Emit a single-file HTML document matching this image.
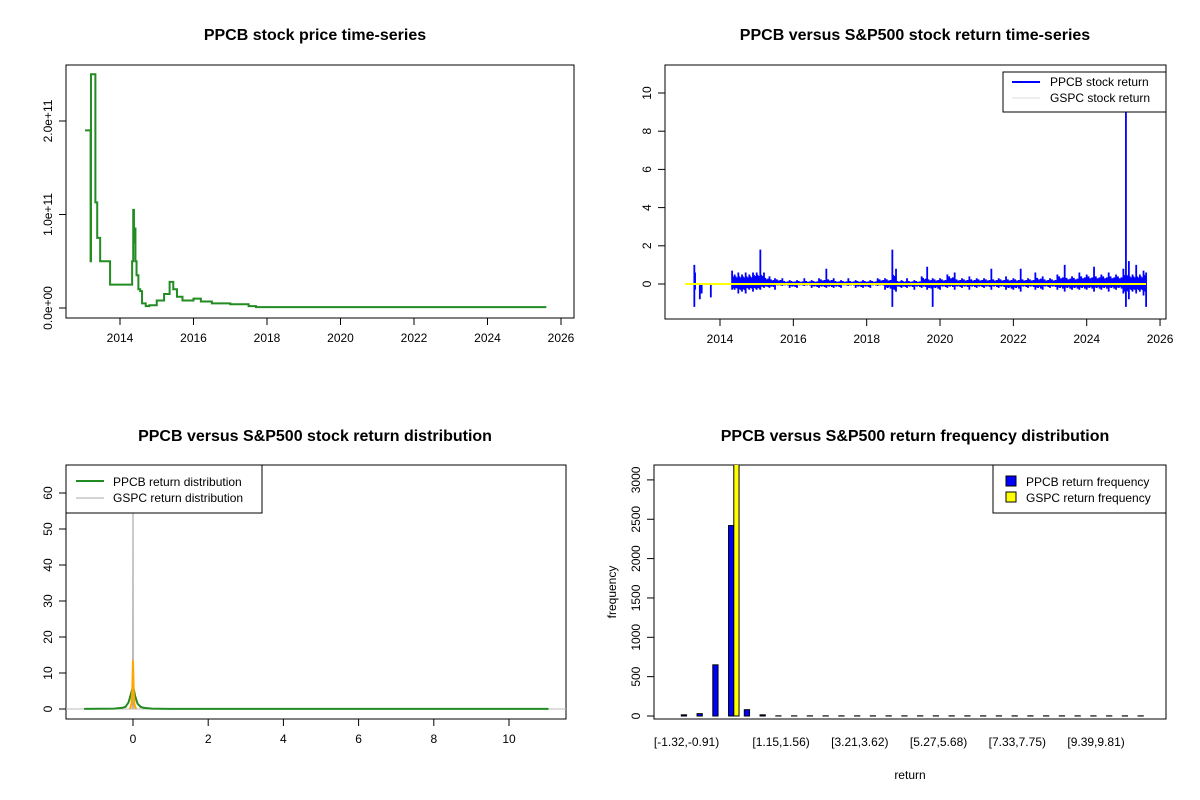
<!DOCTYPE html>
<html><head><meta charset="utf-8">
<style>
body{margin:0;background:#fff;}
svg{display:block;font-family:"Liberation Sans",Arial,sans-serif;}
.t{font-weight:bold;font-size:16px;text-anchor:middle;}
.l{font-size:12px;}
</style></head>
<body>
<svg id="s" width="1200" height="800" viewBox="0 0 1200 800">
<rect width="1200" height="800" fill="#fff"/>
<text class="t" x="315" y="40">PPCB stock price time-series</text>
<text class="t" x="915" y="40">PPCB versus S&amp;P500 stock return time-series</text>
<text class="t" x="315" y="441">PPCB versus S&amp;P500 stock return distribution</text>
<text class="t" x="915" y="441">PPCB versus S&amp;P500 return frequency distribution</text>
<g id="g1"></g>
<g id="g2"></g>
<g id="g3"></g>
<g id="g4"></g>
</svg>
<script>
// ---- data ----
const priceYears=[2013.05,2013.2,2013.21,2013.33,2013.38,2013.46,2013.73,2014.33,2014.36,2014.38,2014.40,2014.42,2014.45,2014.5,2014.55,2014.6,2014.7,2014.8,2015.0,2015.2,2015.35,2015.45,2015.55,2015.7,2016.0,2016.2,2016.5,2017.0,2017.5,2017.7,2025.6];
const priceVals=[1.9,0.5,2.5,1.13,0.75,0.5,0.25,0.5,1.05,0.7,0.85,0.5,0.35,0.2,0.18,0.05,0.02,0.03,0.08,0.15,0.28,0.2,0.12,0.08,0.1,0.07,0.05,0.04,0.02,0.01,0.01];
const priceTicks=[2014,2016,2018,2020,2022,2024,2026];
const priceYTicks=[0,1,2];
const priceYLabels=["0.0e+00","1.0e+11","2.0e+11"];
const retYears=[2013.3,2013.32,2013.45,2013.5,2013.75,2014.33,2014.4,2014.5,2014.6,2014.7,2014.8,2014.9,2015.0,2015.1,2015.2,2015.35,2015.5,2015.7,2015.9,2016.1,2016.3,2016.5,2016.7,2016.9,2017.1,2017.3,2017.5,2017.7,2017.9,2018.1,2018.3,2018.5,2018.7,2018.8,2018.95,2019.1,2019.3,2019.5,2019.65,2019.8,2020.0,2020.2,2020.4,2020.6,2020.8,2021.0,2021.2,2021.4,2021.6,2021.8,2022.0,2022.2,2022.4,2022.6,2022.8,2023.0,2023.2,2023.4,2023.6,2023.8,2024.0,2024.2,2024.4,2024.6,2024.8,2025.0,2025.07,2025.15,2025.25,2025.35,2025.45,2025.55,2025.62];
const retUp=[1.0,0.6,0,0,0,0.7,0.5,0.6,0.5,0.6,0.5,0.6,0.6,1.8,0.6,0.4,0.3,0.3,0.2,0.2,0.3,0.2,0.3,0.8,0.3,0.2,0.3,0.2,0.2,0.2,0.3,0.3,1.8,0.8,0.2,0.3,0.2,0.4,0.9,0.3,0.3,0.5,0.6,0.3,0.4,0.3,0.3,0.8,0.3,0.4,0.3,0.8,0.3,0.6,0.4,0.3,0.5,1.0,0.4,0.6,0.5,0.9,0.5,0.6,0.5,0.8,9.0,1.2,0.5,1.0,0.5,0.7,0.6];
const retDown=[-1.2,-0.3,-0.8,-0.5,-0.7,-0.3,-0.3,-0.5,-0.4,-0.5,-0.3,-0.4,-0.3,-0.3,-0.2,-0.2,-0.3,-0.1,-0.2,-0.2,-0.1,-0.2,-0.2,-0.2,-0.2,-0.2,-0.1,-0.2,-0.2,-0.2,-0.1,-0.3,-1.2,-0.4,-0.2,-0.2,-0.3,-0.2,-0.3,-1.2,-0.3,-0.2,-0.3,-0.2,-0.3,-0.2,-0.2,-0.3,-0.2,-0.3,-0.3,-0.4,-0.2,-0.3,-0.3,-0.2,-0.3,-0.4,-0.3,-0.3,-0.3,-0.4,-0.3,-0.4,-0.3,-0.5,-1.2,-0.8,-0.4,-0.5,-0.4,-0.6,-1.2];
const retYTicks=[0,2,4,6,8,10];
const densGreenX=[-1.3,-0.5,-0.3,-0.2,-0.12,-0.06,-0.02,0,0.02,0.06,0.12,0.2,0.3,0.5,1,11.05];
const densGreenY=[0.05,0.1,0.3,0.6,1.8,4,5.5,6.2,5.5,3.5,1.5,0.6,0.3,0.1,0.05,0.05];
const densOrangeX=[-0.08,-0.04,-0.02,-0.01,0,0.01,0.02,0.04,0.08];
const densOrangeY=[0,1.5,5,9,13.5,9,4.5,1.2,0];
const densGrayX=[-0.01,0,0.01];
const densGrayY=[0,70,0];
const densXTicks=[0,2,4,6,8,10];
const densYTicks=[0,10,20,30,40,50,60];
const binLabels=["[-1.32,-0.91)","[1.15,1.56)","[3.21,3.62)","[5.27,5.68)","[7.33,7.75)","[9.39,9.81)"];
const binLabelIdx=[0,6,11,16,21,26];
const ppcbFreq=[15,30,650,2420,80,15,2,2,2,2,2,2,2,2,2,2,2,2,2,2,2,2,2,2,2,2,2,2,2,2];
const gspcFreq=[0,0,0,3300,0,0,0,0,0,0,0,0,0,0,0,0,0,0,0,0,0,0,0,0,0,0,0,0,0,0];
const histYTicks=[0,500,1000,1500,2000,2500,3000];

const NS="http://www.w3.org/2000/svg";
function mk(p,tag,a,txt){const e=document.createElementNS(NS,tag);for(const k in a)e.setAttribute(k,a[k]);if(txt!==undefined)e.textContent=txt;p.appendChild(e);return e;}
function box(g,x0,y0,x1,y1){const r=mk(g,'rect',{x:x0,y:y0,width:x1-x0,height:y1-y0,fill:'none',stroke:'#000','stroke-width':1});

}
function xtick(g,x,yb,lab){const l=mk(g,'line',{x1:x,x2:x,y1:yb,y2:yb+7,stroke:'#000'});


const t=mk(g,'text',{x:x,y:yb+24,class:'l','text-anchor':'middle'},lab);

}
function ytick(g,xl,y,lab){const l=mk(g,'line',{x1:xl-7,x2:xl,y1:y,y2:y,stroke:'#000'});


const t=mk(g,'text',{x:xl-14,y:y,class:'l','text-anchor':'middle',transform:`rotate(-90 ${xl-14} ${y})`},lab);

}

// ---- chart 1 ----
{const g=document.getElementById('g1');
const X=v=>120+(v-2014)*36.75, Y=v=>308-v*93.5;
box(g,66,65,574,318);
priceTicks.forEach(t=>xtick(g,X(t),318,t));
priceYTicks.forEach((t,i)=>ytick(g,66,Y(t),priceYLabels[i]));
let d=`M${X(priceYears[0])},${Y(priceVals[0])}`;
for(let i=1;i<priceYears.length;i++){d+=`H${X(priceYears[i])}V${Y(priceVals[i])}`;}
const p=mk(g,'path',{d:d,fill:'none',stroke:'#228b22','stroke-width':2});

}

// ---- chart 2 ----
{const g=document.getElementById('g2');
const X=v=>720+(v-2014)*36.67, Y=v=>284-v*19.1;
box(g,665,65,1166,319);
priceTicks.forEach(t=>xtick(g,X(t),319,t));
retYTicks.forEach(t=>ytick(g,665,Y(t),t));
const fr=[0.45,0.8,0.35,0.6,0.3,0.7,0.5];
let d='';
retYears.forEach((yr,i)=>{d+=`M${X(yr)},${Y(retUp[i])}V${Y(retDown[i])}`;
 if(i<retYears.length-1 && yr>2014.3){const nx=retYears[i+1];
  const base=Math.min(retUp[i],retUp[i+1],0.6);const bd=Math.max(retDown[i],retDown[i+1],-0.5);
  for(let k=0;k<fr.length;k++){const m=yr+(nx-yr)*(k+1)/(fr.length+1);
   d+=`M${X(m)},${Y(base*fr[k])}V${Y(bd*fr[(k+3)%fr.length])}`;}}});
const p=mk(g,'path',{d:d,fill:'none',stroke:'#0000ff','stroke-width':1.8});


const q=mk(g,'line',{x1:X(2013.05),x2:X(2025.62),y1:Y(0),y2:Y(0),stroke:'#ffff00','stroke-width':2});


const lg=mk(g,'g',{});


mk(lg,'rect',{x:1003,y:72,width:163,height:40,fill:'#fff',stroke:'#000'});
mk(lg,'line',{x1:1012,x2:1040,y1:82,y2:82,stroke:'#0000ff','stroke-width':2});
mk(lg,'text',{x:1050,y:86,class:'l'},'PPCB stock return');
mk(lg,'line',{x1:1012,x2:1040,y1:98,y2:98,stroke:'#ddd','stroke-width':1});
mk(lg,'text',{x:1050,y:102,class:'l'},'GSPC stock return');}

// ---- chart 3 ----
{const g=document.getElementById('g3');
const X=v=>133+v*37.6, Y=v=>709-v*3.6;
box(g,66,465,566,719);
densXTicks.forEach(t=>xtick(g,X(t),719,t));
densYTicks.forEach(t=>ytick(g,66,Y(t),t));
const cp=mk(g,'clipPath',{id:'c3'});mk(cp,'rect',{x:66,y:465,width:500,height:254});
const hl=mk(g,'line',{x1:66,x2:566,y1:Y(0),y2:Y(0),stroke:'#bbb'});


const line=(xs,ys,c,w,n)=>{const p=mk(g,'polyline',{points:xs.map((x,i)=>X(x)+','+Y(ys[i])).join(' '),fill:'none',stroke:c,'stroke-width':w,'clip-path':'url(#c3)'});

};
line(densGreenX,densGreenY,'#228b22',2,'ppcb-density');
line(densGrayX,densGrayY,'#aaa',1,'gspc-density');
line(densOrangeX,densOrangeY,'#ffa500',2,'gspc-density-overlay');
const lg=mk(g,'g',{});


mk(lg,'rect',{x:66,y:465,width:196,height:48,fill:'#fff',stroke:'#000'});
mk(lg,'line',{x1:76,x2:104,y1:481,y2:481,stroke:'#228b22','stroke-width':2});
mk(lg,'text',{x:113,y:486,class:'l'},'PPCB return distribution');
mk(lg,'line',{x1:76,x2:104,y1:498,y2:498,stroke:'#aaa'});
mk(lg,'text',{x:113,y:502,class:'l'},'GSPC return distribution');}

// ---- chart 4 ----
{const g=document.getElementById('g4');
const U=5.25, X=u=>654+(u+4.2)*U, Y=v=>716-v*0.0787;
box(g,654,465,1166,719);
const cp=mk(g,'clipPath',{id:'c4'});mk(cp,'rect',{x:654,y:465,width:512,height:254});
histYTicks.forEach(t=>ytick(g,654,Y(t),t));
binLabelIdx.forEach((b,i)=>{const t=mk(g,'text',{x:X(3*b+2),y:746,class:'l','text-anchor':'middle'},binLabels[i]);

});
ppcbFreq.forEach((v,i)=>{const x0=X(3*i+1);
 const r=mk(g,'rect',{x:x0,y:Y(v),width:U,height:Y(0)-Y(v),fill:'#0000ff',stroke:'#000','clip-path':'url(#c4)'});
 
 
 const r2=mk(g,'rect',{x:x0+U,y:Y(gspcFreq[i]),width:U,height:Y(0)-Y(gspcFreq[i]),fill:'#ffff00',stroke:'#000','clip-path':'url(#c4)'});
 
 });
const xl=mk(g,'text',{x:910,y:779,class:'l','text-anchor':'middle'},'return');


const yl=mk(g,'text',{x:616,y:592,class:'l','text-anchor':'middle',transform:'rotate(-90 616 592)'},'frequency');


const lg=mk(g,'g',{});


mk(lg,'rect',{x:993,y:465,width:173,height:48,fill:'#fff',stroke:'#000'});
mk(lg,'rect',{x:1006,y:476,width:10,height:10,fill:'#0000ff',stroke:'#000'});
mk(lg,'text',{x:1026,y:486,class:'l'},'PPCB return frequency');
mk(lg,'rect',{x:1006,y:492,width:10,height:10,fill:'#ffff00',stroke:'#000'});
mk(lg,'text',{x:1026,y:502,class:'l'},'GSPC return frequency');}
</script>
</body></html>
